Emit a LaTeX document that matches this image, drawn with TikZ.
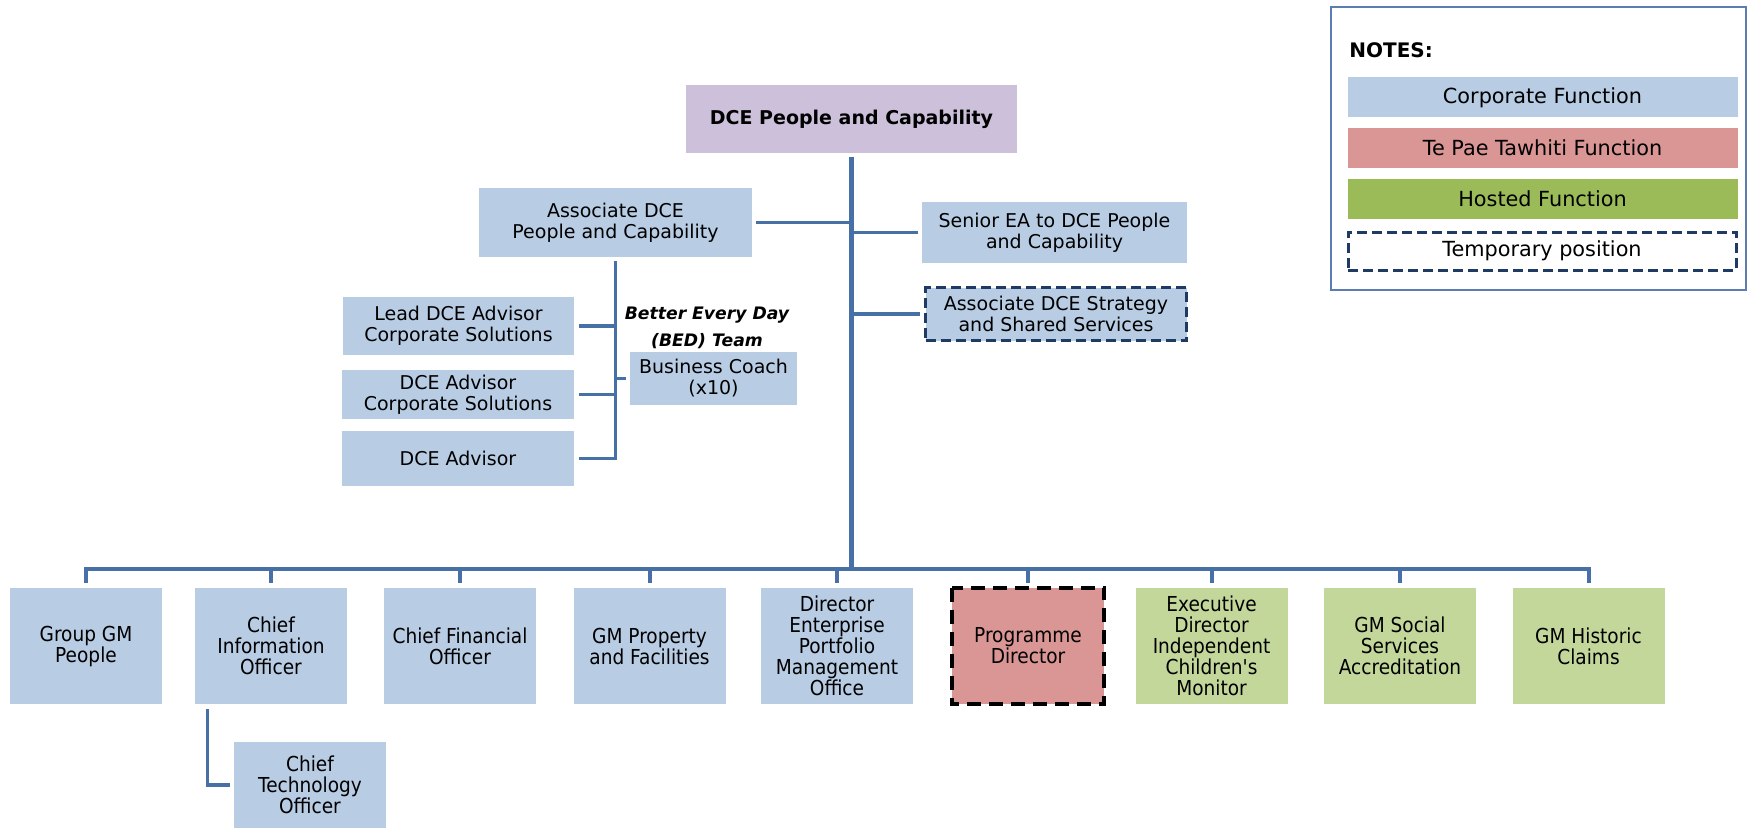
\documentclass[tikz,border=0pt]{standalone}
\usepackage{fontspec}
\setmainfont{DejaVu Sans}
\newfontfamily\tahoma{DejaVu Sans}[FakeStretch=0.9]
\usepackage{tikz}
\usetikzlibrary{positioning, calc}
\definecolor{corpblue}{HTML}{B8CCE4}
\definecolor{dcepurple}{HTML}{CCC0DA}
\definecolor{tpred}{HTML}{DA9694}
\definecolor{hostgreen}{HTML}{C4D79B}
\definecolor{keygreen}{HTML}{9BBB59}
\definecolor{linkblue}{HTML}{4770A6}
\definecolor{tempnavy}{HTML}{1F3B63}
\definecolor{framegrey}{HTML}{5B7DB1}

\tikzset{
  orgbox/.style={rectangle, fill=corpblue, inner sep=0pt, align=center,
    font=\fontsize{9.5}{10.5}\selectfont},
  lowbox/.style={rectangle, inner sep=0pt, align=center, minimum width=76pt,
    minimum height=58pt, font=\tahoma\fontsize{10.3}{10.5}\selectfont},
  keybox/.style={rectangle, inner sep=0pt, minimum width=195pt,
    minimum height=20pt, font=\fontsize{10.4}{12}\selectfont},
  tempdash/.style={draw=tempnavy, line width=1.5pt, dash pattern=on 5pt off 2.5pt},
  link/.style={draw=linkblue, line width=1.8pt},
}

\begin{document}
\begin{tikzpicture}[x=0.5pt, y=-0.5pt]
    \useasboundingbox (0,0) rectangle (1747,829);

    % legend
    \node[draw=framegrey, line width=0.6pt, minimum width=207.5pt, minimum height=141.5pt, inner sep=0pt] (notes) at (1538.5,148.5) {};
    \node[anchor=west, inner sep=0pt, font=\bfseries\fontsize{10}{12}\selectfont] (notestitle) at (1349,50) {NOTES:};
    \node[keybox, fill=corpblue] (keycorp) at (1542.5,97.5) {Corporate Function};
    \node[keybox, fill=tpred] (keytp) at (1542.5,148) {Te Pae Tawhiti Function};
    \node[keybox, fill=keygreen] (keyhost) at (1542.5,199) {Hosted Function};
    \node[keybox, tempdash, minimum width=194pt, minimum height=19pt] (keytemp) at (1542,251) {Temporary position};

    % top of the chart
    \node[orgbox, fill=dcepurple, minimum width=165.5pt, minimum height=34pt,
          font=\bfseries\fontsize{9.5}{10.5}\selectfont] (dce) at (851.5,119) {DCE People and Capability};
    \coordinate (bus) at (851.5,569);
    \draw[link, line width=2.5pt, shorten <=2pt] (dce.south) -- (bus);

    \node[orgbox, minimum width=136.5pt, minimum height=34.5pt] (assoc) at (615.5,222.5) {Associate DCE\\People and Capability};
    \node[orgbox, minimum width=132.5pt, minimum height=30.5pt] (seniorea) at (1054.5,232.5) {Senior EA to DCE People\\and Capability};
    \node[orgbox, tempdash, minimum width=130.5pt, minimum height=26.5pt] (assocss) at (1056,314) {Associate DCE Strategy\\and Shared Services};
    \draw[link, shorten <=2pt] (assoc.east) -- (assoc.east -| bus);
    \draw[link, shorten >=2pt] (seniorea.west -| bus) -- (seniorea.west);
    \draw[link, shorten >=2pt] (assocss.west -| bus) -- (assocss.west);

    % BED team
    \node[orgbox, minimum width=115.5pt, minimum height=29pt] (lead) at (458.5,326) {Lead DCE Advisor\\Corporate Solutions};
    \node[orgbox, minimum width=116pt, minimum height=24.5pt] (dceadvcs) at (458,394.5) {DCE Advisor\\Corporate Solutions};
    \node[orgbox, minimum width=116pt, minimum height=27.5pt] (dceadv) at (458,458.5) {DCE Advisor};
    \node[orgbox, minimum width=83.5pt, minimum height=26.5pt] (coach) at (713.5,378.5) {Business Coach\\(x10)};
    \node[inner sep=0pt, align=center, font=\bfseries\itshape\fontsize{8.6}{13.5}\selectfont] (bed) at (707,327.5) {Better Every Day\\(BED) Team};
    \draw[link, shorten <=2.5pt, shorten >=2pt] (dceadv.east) -| (assoc.south);
    \draw[link, shorten <=2.5pt] (lead.east) -- (lead.east -| assoc.south);
    \draw[link, shorten <=2.5pt] (dceadvcs.east) -- (dceadvcs.east -| assoc.south);
    \draw[link, shorten >=2pt] (coach.west -| assoc.south) -- (coach.west);

    % direct reports
    \foreach \n/\x/\c/\t in {gmpeople/86/corpblue/{Group GM\\People},
        cio/271/corpblue/{Chief\\Information\\Officer},
        cfo/460/corpblue/{Chief Financial\\Officer},
        gmprop/649.5/corpblue/{GM Property\\and Facilities},
        epmo/837/corpblue/{Director\\Enterprise\\Portfolio\\Management\\Office},
        progdir/1028/tpred/{Programme\\Director},
        edicm/1211.5/hostgreen/{Executive\\Director\\Independent\\Children's\\Monitor},
        gmssa/1400/hostgreen/{GM Social\\Services\\Accreditation},
        gmhist/1588.5/hostgreen/{GM Historic\\Claims}}{
        \node[lowbox, fill=\c] (\n) at (\x,646) {\t};
    }
    \draw[line width=2pt, dash pattern=on 7pt off 4pt] (progdir.north west) rectangle (progdir.south east);

    \draw[link, line width=2pt, shorten <=2.5pt, shorten >=2.5pt] (gmpeople.north) |- (bus) -| (gmhist.north);
    \foreach \n in {cio,cfo,gmprop,epmo,progdir,edicm,gmssa}{
        \draw[link, line width=2pt, shorten >=2.5pt] (\n.north |- bus) -- (\n.north);
    }

    \node[lowbox, fill=corpblue, minimum height=43pt] (cto) at (310,785) {Chief\\Technology\\Officer};
    \draw[link, shorten <=2.5pt, shorten >=2pt] ([xshift=6.5pt]cio.south west) |- (cto.west);
\end{tikzpicture}
\end{document}
